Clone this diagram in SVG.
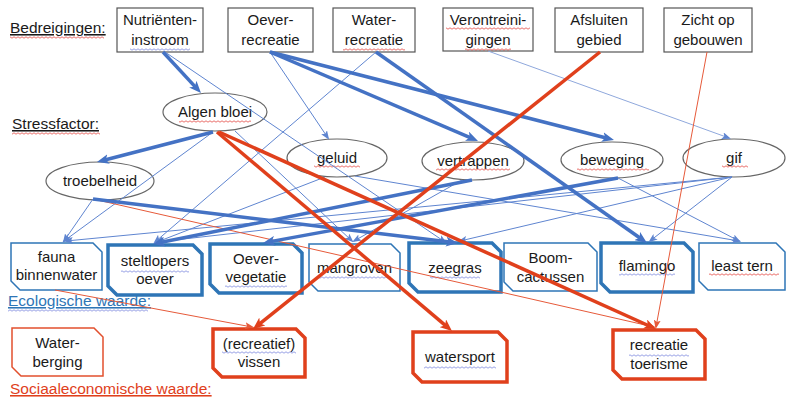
<svg xmlns="http://www.w3.org/2000/svg" width="786" height="403" viewBox="0 0 786 403">
<style>
text{font-family:"Liberation Sans",Arial,sans-serif;font-size:15px;fill:#1a1a1a;text-anchor:middle}
.lbl{font-size:15.5px;text-anchor:start}
.tb{fill:#fff;stroke:#555;stroke-width:1.2}
.el{fill:#fff;stroke:#666;stroke-width:1.2}
.e1{fill:#fff;stroke:#2E75B6;stroke-width:1.5}
.e3{fill:#fff;stroke:#2E75B6;stroke-width:3.5}
.r1{fill:#fff;stroke:#E2502E;stroke-width:1.5}
.r3{fill:#fff;stroke:#E0401C;stroke-width:3.5}
.bT{stroke:#4472C4;stroke-width:3.5;fill:none;marker-end:url(#aB)}
.bt{stroke:#5F85D0;stroke-width:1;fill:none;marker-end:url(#ab)}
.rT{stroke:#E0401C;stroke-width:3.5;fill:none;marker-end:url(#aR)}
.rt{stroke:#E65A3A;stroke-width:1;fill:none;marker-end:url(#ar)}
.sqr{fill:url(#sqR)}
.sqb{fill:url(#sqB)}
</style>
<defs>
<marker id="aB" viewBox="0 0 12 10" markerWidth="12" markerHeight="10" refX="6" refY="5" orient="auto" markerUnits="userSpaceOnUse"><path d="M0,0 L12,5 L0,10 L3,5z" fill="#4472C4"/></marker>
<marker id="ab" viewBox="0 0 9 7" markerWidth="9" markerHeight="7" refX="7" refY="3.5" orient="auto" markerUnits="userSpaceOnUse"><path d="M0,0 L9,3.5 L0,7 L2,3.5z" fill="#5F85D0"/></marker>
<marker id="aR" viewBox="0 0 12 10" markerWidth="12" markerHeight="10" refX="6" refY="5" orient="auto" markerUnits="userSpaceOnUse"><path d="M0,0 L12,5 L0,10 L3,5z" fill="#E0401C"/></marker>
<marker id="ar" viewBox="0 0 9 7" markerWidth="9" markerHeight="7" refX="7" refY="3.5" orient="auto" markerUnits="userSpaceOnUse"><path d="M0,0 L9,3.5 L0,7 L2,3.5z" fill="#E65A3A"/></marker>
<pattern id="sqR" width="4" height="3" patternUnits="userSpaceOnUse"><path d="M0,2.2 L2,0.8 L4,2.2" fill="none" stroke="#E0302A" stroke-width="0.7"/></pattern>
<pattern id="sqB" width="4" height="3" patternUnits="userSpaceOnUse"><path d="M0,2.2 L2,0.8 L4,2.2" fill="none" stroke="#6B78D8" stroke-width="0.7"/></pattern>
</defs>

<g id="labels">
<text class="lbl" x="10" y="33" text-decoration="underline">Bedreigingen:</text>
<rect class="sqr" x="10" y="36" width="94" height="3"/>
<text class="lbl" x="12" y="129" text-decoration="underline">Stressfactor:</text>
<rect class="sqr" x="12" y="132" width="88" height="3"/>
<text class="lbl" x="8" y="306" style="fill:#2E75B6" text-decoration="underline">Ecologische waarde:</text>
<rect class="sqb" x="8" y="309" width="140" height="3"/>
<text class="lbl" x="10" y="394" style="fill:#E0401C" text-decoration="underline">Sociaaleconomische waarde:</text>
</g>

<g id="n-nutrienten"><rect class="tb" x="117" y="8" width="86" height="44"/><text x="160" y="25">Nutriënten-</text><text x="160" y="45">instroom</text><rect class="sqb" x="130" y="48" width="60" height="3"/></g>
<g id="n-oeverrecreatie"><rect class="tb" x="228" y="8" width="85" height="44"/><text x="270.5" y="25">Oever-</text><text x="270.5" y="45">recreatie</text></g>
<g id="n-waterrecreatie"><rect class="tb" x="333" y="8" width="82" height="44"/><text x="374" y="25">Water-</text><text x="374" y="45">recreatie</text><rect class="sqr" x="343" y="48" width="62" height="3"/></g>
<g id="n-verontreinigingen"><rect class="tb" x="443" y="8" width="90" height="43"/><text x="488" y="25">Verontreini-</text><text x="488" y="45">gingen</text><rect class="sqr" x="446" y="27" width="84" height="3"/><rect class="sqr" x="465" y="48" width="46" height="3"/></g>
<g id="n-afsluiten"><rect class="tb" x="555" y="8" width="88" height="44"/><text x="599" y="25">Afsluiten</text><text x="599" y="45">gebied</text></g>
<g id="n-zicht"><rect class="tb" x="664" y="8" width="88" height="44"/><text x="708" y="25">Zicht op</text><text x="708" y="45">gebouwen</text></g>

<g id="n-algen"><ellipse class="el" cx="215" cy="112" rx="52" ry="19"/><text x="215" y="117">Algen bloei</text><rect class="sqr" x="179" y="120" width="72" height="3"/></g>
<g id="n-troebelheid"><ellipse class="el" cx="100" cy="181" rx="54" ry="19"/><text x="100" y="186">troebelheid</text></g>
<g id="n-geluid"><ellipse class="el" cx="337" cy="158" rx="50" ry="19"/><text x="337" y="163">geluid</text><rect class="sqr" x="314" y="165" width="46" height="3"/></g>
<g id="n-vertrappen"><ellipse class="el" cx="473" cy="161" rx="51" ry="19"/><text x="473" y="166">vertrappen</text><rect class="sqr" x="436" y="168" width="74" height="3"/></g>
<g id="n-beweging"><ellipse class="el" cx="612" cy="160" rx="51" ry="18"/><text x="612" y="165">beweging</text><rect class="sqr" x="577" y="168" width="72" height="3"/></g>
<g id="n-gif"><ellipse class="el" cx="734" cy="158" rx="51" ry="19"/><text x="734" y="163">gif</text><rect class="sqr" x="722" y="165" width="26" height="3"/></g>

<g id="n-fauna"><polygon class="e1" points="11,243 93,243 102,252 102,290 20,290 11,281"/><text x="56.5" y="262">fauna</text><text x="56.5" y="280">binnenwater</text></g>
<g id="n-steltlopers"><polygon class="e3" points="108,245 193,245 202,254 202,295 117,295 108,286"/><text x="155" y="266">steltlopers</text><text x="155" y="284">oever</text><rect class="sqb" x="121" y="270" width="68" height="3"/></g>
<g id="n-oevervegetatie"><polygon class="e3" points="210,244 293,244 302,253 302,293 219,293 210,284"/><text x="256" y="264">Oever-</text><text x="256" y="282">vegetatie</text><rect class="sqb" x="225" y="285" width="62" height="3"/></g>
<g id="n-mangroven"><polygon class="e1" points="309,244 391,244 400,253 400,291 318,291 309,282"/><text x="354.5" y="273">mangroven</text><rect class="sqb" x="318" y="276" width="73" height="3"/></g>
<g id="n-zeegras"><polygon class="e3" points="409,243 492,243 501,252 501,292 418,292 409,283"/><text x="455" y="273">zeegras</text><rect class="sqb" x="430" y="276" width="50" height="3"/></g>
<g id="n-boomcactussen"><polygon class="e1" points="504,243 588,243 597,252 597,291 513,291 504,282"/><text x="550.5" y="263">Boom-</text><text x="550.5" y="282">cactussen</text></g>
<g id="n-flamingo"><polygon class="e3" points="601,243 684,243 693,252 693,292 610,292 601,283"/><text x="647" y="271">flamingo</text><rect class="sqb" x="619" y="273" width="56" height="3"/></g>
<g id="n-leasttern"><polygon class="e1" points="699,243 776,243 785,252 785,290 708,290 699,281"/><text x="742" y="271">least tern</text><rect class="sqr" x="709" y="273" width="70" height="3"/></g>

<g id="n-waterberging"><polygon class="r1" points="12,328 94,328 103,337 103,376 21,376 12,367"/><text x="57.5" y="348">Water-</text><text x="57.5" y="367">berging</text></g>
<g id="n-vissen"><polygon class="r3" points="213,329 296,329 305,338 305,377 222,377 213,368"/><text x="259" y="349">(recreatief)</text><text x="259" y="367">vissen</text><rect class="sqb" x="222" y="351" width="74" height="3"/></g>
<g id="n-watersport"><polygon class="r3" points="413,332 498,332 507,341 507,382 422,382 413,373"/><text x="460" y="362">watersport</text><rect class="sqb" x="424" y="366" width="72" height="3"/></g>
<g id="n-recreatietoerisme"><polygon class="r3" points="613,330 696,330 705,339 705,379 622,379 613,370"/><text x="659" y="350">recreatie</text><text x="659" y="369">toerisme</text><rect class="sqb" x="629" y="354" width="60" height="3"/></g>

<g id="connectors">
<line class="bt" x1="165" y1="52" x2="445" y2="242"/>
<line class="bt" x1="270" y1="52" x2="328" y2="138"/>
<line class="bt" x1="376" y1="52" x2="155" y2="242"/>
<line class="bt" x1="488" y1="51" x2="729" y2="138" style="stroke:#8FA8DC"/>
<line class="bt" x1="213" y1="132" x2="64" y2="241"/>
<line class="bt" x1="93" y1="199" x2="64" y2="241"/>
<line class="bt" x1="235" y1="131" x2="352" y2="241"/>
<line class="bt" x1="732" y1="177" x2="66" y2="241"/>
<line class="bt" x1="732" y1="177" x2="157" y2="242"/>
<line class="bt" x1="732" y1="177" x2="460" y2="241"/>
<line class="bt" x1="732" y1="177" x2="650" y2="241"/>
<line class="bt" x1="618" y1="178" x2="739" y2="241"/>
<line class="bt" x1="355" y1="176" x2="739" y2="241"/>
<line class="bt" x1="325" y1="177" x2="157" y2="242"/>
<line class="bt" x1="462" y1="180" x2="354" y2="241"/>
<line class="rt" x1="707" y1="52" x2="656" y2="327"/>
<line class="rt" x1="93" y1="199" x2="654" y2="327"/>
<line class="rt" x1="55" y1="290" x2="252" y2="327"/>
<line class="bT" x1="163" y1="52" x2="196.9" y2="88.6"/>
<line class="bT" x1="270" y1="52" x2="472.5" y2="138.6"/>
<line class="bT" x1="270" y1="52" x2="608.2" y2="138.5"/>
<line class="bT" x1="376" y1="52" x2="642.1" y2="239.5"/>
<line class="bT" x1="213" y1="132" x2="102.8" y2="160.5"/>
<line class="bT" x1="93" y1="199" x2="452" y2="242.3"/>
<line class="bT" x1="472" y1="180" x2="158.9" y2="242.8"/>
<line class="bT" x1="618" y1="178" x2="268.9" y2="241.9"/>
<line class="rT" x1="600" y1="52" x2="257.7" y2="325.3"/>
<line class="rT" x1="217" y1="132" x2="447.4" y2="327.1"/>
<line class="rT" x1="219" y1="132" x2="650.5" y2="326.5"/>
</g>
</svg>
